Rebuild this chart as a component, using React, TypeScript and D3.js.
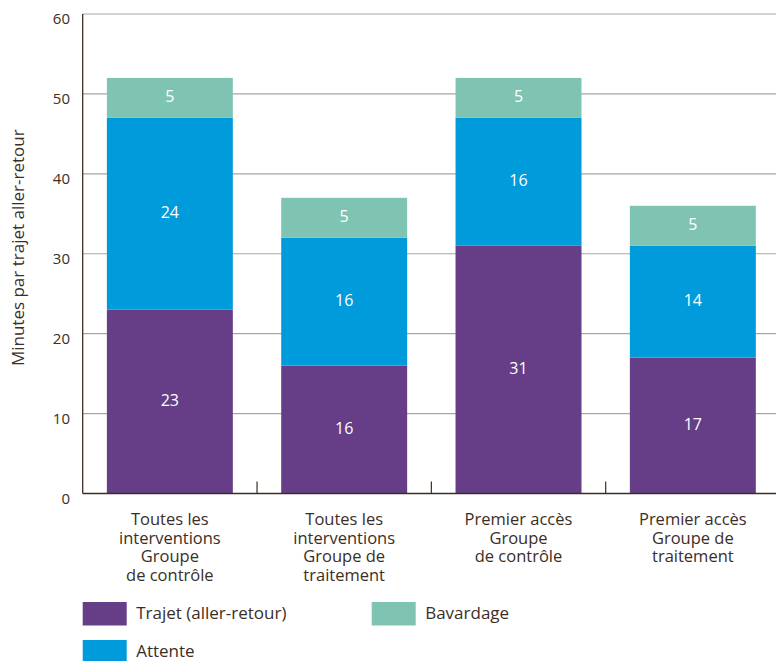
import React from "react";
import * as d3 from "d3";

const categories = [
  ["Toutes les", "interventions", "Groupe", "de contrôle"],
  ["Toutes les", "interventions", "Groupe de", "traitement"],
  ["Premier accès", "Groupe", "de contrôle"],
  ["Premier accès", "Groupe de", "traitement"],
];
const trajet = [23, 16, 31, 17];
const attente = [24, 16, 16, 14];
const bavardage = [5, 5, 5, 5];
const seriesNames = ["Trajet (aller-retour)", "Attente", "Bavardage"];
const seriesColors = ["#653e87", "#009bdb", "#7fc4b3"];
const yTicks = [0, 10, 20, 30, 40, 50, 60];

const W = 776;
const H = 661;
const plot = { left: 82.7, right: 780, top: 14, bottom: 493.5 };
const textColor = "#3b2e26";
const font = "'Open Sans', sans-serif";

export default function App() {
  const x = d3
    .scaleBand<number>()
    .domain(categories.map((_, i) => i))
    .range([plot.left, plot.right])
    .paddingInner(0.2775)
    .paddingOuter(0.1387);
  const y = d3.scaleLinear().domain([0, 60]).range([plot.bottom, plot.top]);

  const data = categories.map((_, i) => [trajet[i], attente[i], bavardage[i]]);
  const stack = d3.stack<number[]>().keys(["0", "1", "2"]).value((d, k) => d[+k]);
  const stacked = stack(data);
  const step = x.step();

  return (
    <svg width={W} height={H} style={{ position: "absolute", left: 0, top: 0 }} fontFamily={font}>
      {yTicks.slice(1).map((t) => (
        <line key={t} x1={plot.left} x2={plot.right} y1={y(t)} y2={y(t)} stroke="#a6a6a6" strokeWidth={1.2} />
      ))}
      {yTicks.map((t) => (
        <text key={t} x={70} y={y(t) + 6} textAnchor="end" dominantBaseline="middle" fontSize={15} fill={textColor}>
          {t}
        </text>
      ))}
      {stacked.map((s, si) =>
        s.map((d, i) => (
          <g key={si + "-" + i}>
            <rect x={x(i)} width={x.bandwidth()} y={y(d[1])} height={y(d[0]) - y(d[1])} fill={seriesColors[si]} />
            <text
              x={(x(i) as number) + x.bandwidth() / 2}
              y={(y(d[0]) + y(d[1])) / 2}
              textAnchor="middle"
              dominantBaseline="middle"
              fontSize={16}
              fill="#ffffff"
            >
              {d[1] - d[0]}
            </text>
          </g>
        ))
      )}
      <line x1={plot.left} x2={plot.left} y1={plot.top} y2={plot.bottom} stroke={textColor} strokeWidth={1.3} />
      <line x1={plot.left} x2={plot.right} y1={plot.bottom} y2={plot.bottom} stroke={textColor} strokeWidth={1.5} />
      {categories.slice(1).map((_, i) => {
        const bx = plot.left + step * (i + 1);
        return <line key={i} x1={bx} x2={bx} y1={plot.bottom - 12} y2={plot.bottom} stroke={textColor} strokeWidth={1.2} />;
      })}
      {categories.map((lines, i) => (
        <text key={i} textAnchor="middle" fontSize={16.5} fill={textColor}>
          {lines.map((l, j) => (
            <tspan key={j} x={(x(i) as number) + x.bandwidth() / 2} y={525 + j * 18.7}>
              {l}
            </tspan>
          ))}
        </text>
      ))}
      <text
        transform={`translate(24, ${y(30) - 6}) rotate(-90)`}
        textAnchor="middle"
        fontSize={17}
        fill={textColor}
      >
        Minutes par trajet aller-retour
      </text>
      {seriesNames.map((n, i) => {
        const lx = i === 2 ? 371.7 : 82.7;
        const ly = i === 1 ? 640 : 602;
        return (
          <g key={n}>
            <rect x={lx} y={ly} width={44} height={23.5} fill={seriesColors[i]} />
            <text x={lx + 53.5} y={ly + 12.5} dominantBaseline="middle" fontSize={17} fill={textColor}>
              {n}
            </text>
          </g>
        );
      })}
    </svg>
  );
}
